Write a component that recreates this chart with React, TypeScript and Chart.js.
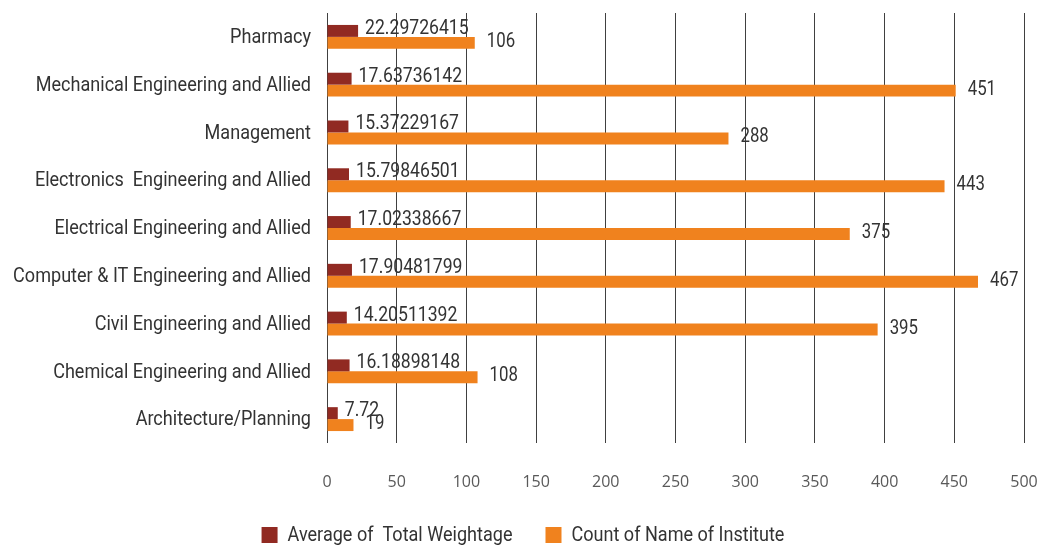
import React, { useEffect, useRef } from "react";
import { Chart, registerables } from "chart.js";

Chart.register(...registerables);

const categories = [
  "Pharmacy",
  "Mechanical Engineering and Allied",
  "Management",
  "Electronics  Engineering and Allied",
  "Electrical Engineering and Allied",
  "Computer & IT Engineering and Allied",
  "Civil Engineering and Allied",
  "Chemical Engineering and Allied",
  "Architecture/Planning",
];

const avgWeightage = [
  22.29726415, 17.63736142, 15.37229167, 15.79846501, 17.02338667, 17.90481799,
  14.20511392, 16.18898148, 7.72,
];

const avgLabels = [
  "22.29726415", "17.63736142", "15.37229167", "15.79846501", "17.02338667",
  "17.90481799", "14.20511392", "16.18898148", "7.72",
];

const instituteCount = [106, 451, 288, 443, 375, 467, 395, 108, 19];

const xTicks = [0, 50, 100, 150, 200, 250, 300, 350, 400, 450, 500];

const seriesNames = ["Average of  Total Weightage", "Count of Name of Institute"];
const seriesColors = ["#912A22", "#F0821E"];

const NARROW_FONT = "Roboto, 'DejaVu Sans', sans-serif";
const SQUEEZE = 0.86;

function narrowText(ctx: CanvasRenderingContext2D, text: string, x: number, y: number, size: number, align: CanvasTextAlign, squeeze = SQUEEZE) {
  ctx.save();
  ctx.font = `${size}px ${NARROW_FONT}`;
  ctx.textAlign = align;
  ctx.textBaseline = "middle";
  ctx.translate(x, y);
  ctx.scale(squeeze, 1);
  ctx.fillText(text, 0, 0);
  ctx.restore();
}

function narrowWidth(ctx: CanvasRenderingContext2D, text: string, size: number, squeeze = SQUEEZE) {
  ctx.save();
  ctx.font = `${size}px ${NARROW_FONT}`;
  const w = ctx.measureText(text).width * squeeze;
  ctx.restore();
  return w;
}

const textPlugin = {
  id: "narrowTexts",
  afterDatasetsDraw(chart: any) {
    const ctx: CanvasRenderingContext2D = chart.ctx;
    const area = chart.chartArea;
    ctx.save();
    ctx.fillStyle = "#333333";
    // category labels
    const yScale = chart.scales.y;
    categories.forEach((c, i) => {
      narrowText(ctx, c, area.left - 16, yScale.getPixelForTick(i) + 1, 21, "right");
    });
    // value labels
    const m0 = chart.getDatasetMeta(0);
    m0.data.forEach((bar: any, i: number) => {
      narrowText(ctx, avgLabels[i], bar.x + 7, bar.y - 2, 20, "left", 0.88);
    });
    const m1 = chart.getDatasetMeta(1);
    m1.data.forEach((bar: any, i: number) => {
      narrowText(ctx, String(instituteCount[i]), bar.x + 12, bar.y - 1, 20, "left", 0.84);
    });
    // legend
    const size = 21;
    const box = 16;
    const gap = 10;
    const itemGap = 33;
    const widths = seriesNames.map((s) => narrowWidth(ctx, s, size));
    const total = widths.reduce((a, b) => a + b, 0) + 2 * (box + gap) + itemGap;
    let x = 523 - total / 2;
    const cy = 535;
    seriesNames.forEach((s, i) => {
      ctx.fillStyle = seriesColors[i];
      ctx.fillRect(x, cy - box / 2, box, box);
      x += box + gap;
      ctx.fillStyle = "#333333";
      narrowText(ctx, s, x, cy + 1, size, "left");
      x += widths[i] + itemGap;
    });
    ctx.restore();
  },
};

export default function App() {
  const ref = useRef<HTMLCanvasElement | null>(null);
  useEffect(() => {
    if (!ref.current) return;
    const chart = new Chart(ref.current, {
      type: "bar",
      data: {
        labels: categories,
        datasets: [
          {
            label: seriesNames[0],
            data: avgWeightage,
            backgroundColor: seriesColors[0],
            borderWidth: 0,
            categoryPercentage: 0.5,
            barPercentage: 1.0,
          },
          {
            label: seriesNames[1],
            data: instituteCount,
            backgroundColor: seriesColors[1],
            borderWidth: 0,
            categoryPercentage: 0.5,
            barPercentage: 1.0,
          },
        ],
      },
      options: {
        indexAxis: "y",
        animation: false,
        responsive: true,
        maintainAspectRatio: false,
        layout: { padding: { left: 8, right: 17, top: 13, bottom: 0 } },
        scales: {
          x: {
            min: 0,
            max: 500,
            afterBuildTicks: (axis: any) => {
              axis.ticks = xTicks.map((v) => ({ value: v }));
            },
            afterFit: (axis: any) => {
              axis.height = 103;
              axis.paddingLeft = 0;
              axis.paddingRight = 0;
            },
            grid: {
              color: "#404040",
              lineWidth: 1,
              drawTicks: false,
            },
            border: { display: false },
            ticks: {
              padding: 30,
              color: "#595959",
              font: { family: "'Open Sans', sans-serif", size: 16 },
            },
          },
          y: {
            grid: { display: false, drawTicks: false },
            border: { display: false },
            ticks: { display: false },
            afterFit: (axis: any) => {
              axis.width = 319;
              axis.paddingTop = 0;
              axis.paddingBottom = 0;
            },
          },
        },
        plugins: {
          legend: { display: false },
          tooltip: { enabled: false },
        },
      },
      plugins: [textPlugin],
    });
    return () => chart.destroy();
  }, []);
  return (
    <div style={{ position: "fixed", left: 0, top: 0, width: 1041, height: 546, background: "#fff" }}>
      <canvas ref={ref} />
    </div>
  );
}
